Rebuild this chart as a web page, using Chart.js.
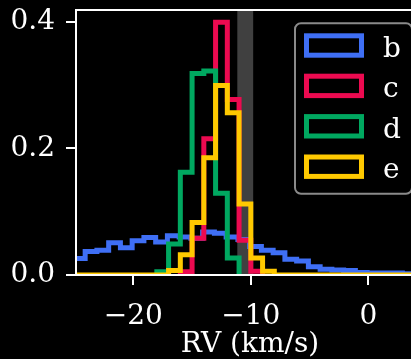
<!DOCTYPE html>
<html>
<head>
<meta charset="utf-8">
<title>RV distributions</title>
<script src="https://cdn.jsdelivr.net/npm/chart.js@4.4.1/dist/chart.umd.min.js"></script>
<style>
  html, body { margin: 0; padding: 0; background: #000; overflow: hidden; }
  #wrap { width: 440px; height: 359px; }
</style>
</head>
<body>
<div id="wrap"><canvas id="rv-hist" width="440" height="359"></canvas></div>
<script>
// Normalised RV histograms, 1 km/s bins
const seriesNames = ["b", "c", "d", "e"];
const seriesColors = ["#3f6ff5", "#ec0a50", "#00a860", "#ffc900"];
const binWidth = 1;
const binStarts = [-25.1, -16, -18, -25];

const bValues = [0.026, 0.037, 0.039, 0.051, 0.043, 0.054, 0.059, 0.052, 0.062, 0.060,
                 0.058, 0.068, 0.066, 0.060, 0.056, 0.045, 0.039, 0.035, 0.025, 0.022,
                 0.013, 0.009, 0.008, 0.007, 0.004, 0.003, 0.003, 0.003, 0.002, 0.002];
const cValues = [0.005, 0.058, 0.215, 0.399, 0.277, 0.055, 0.006];
const dValues = [0.005, 0.049, 0.162, 0.318, 0.322, 0.129, 0.027];
const eValues = [0, 0, 0, 0, 0, 0, 0, 0,
                 0.007, 0.032, 0.083, 0.185, 0.299, 0.256, 0.112, 0.027, 0.006,
                 0, 0, 0, 0, 0, 0, 0, 0, 0, 0, 0, 0, 0];
const seriesValues = [bValues, cValues, dValues, eValues];

// shaded RV interval
const bandRange = [-11.15, -9.8];

const xRange = [-24.88, 4.74];
const yRange = [0, 0.4183];
const xTicks = [-20, -10, 0];
const yTicks = [0, 0.2, 0.4];

const FONT = "DejaVu Serif";

function stepPoints(start, values) {
  const points = [{ x: start, y: 0 }];
  values.forEach((v, i) => {
    points.push({ x: start + i * binWidth, y: v });
    points.push({ x: start + (i + 1) * binWidth, y: v });
  });
  points.push({ x: start + values.length * binWidth, y: 0 });
  return points;
}

const bandPlugin = {
  id: "rvBand",
  beforeDatasetsDraw(chart) {
    const { ctx, chartArea, scales } = chart;
    const x0 = scales.x.getPixelForValue(bandRange[0]);
    const x1 = scales.x.getPixelForValue(bandRange[1]);
    ctx.save();
    ctx.fillStyle = "#404040";
    ctx.fillRect(x0, chartArea.top, x1 - x0, chartArea.bottom - chartArea.top);
    ctx.restore();
  }
};

// axis frame goes over the histograms, legend over everything
const framePlugin = {
  id: "frameAndLegend",
  afterDatasetsDraw(chart) {
    const { ctx, chartArea } = chart;
    ctx.save();
    ctx.strokeStyle = "#ffffff";
    ctx.lineWidth = 2;
    ctx.beginPath();
    ctx.moveTo(chartArea.right, chartArea.top);
    ctx.lineTo(chartArea.left, chartArea.top);
    ctx.lineTo(chartArea.left, chartArea.bottom);
    ctx.lineTo(chartArea.right, chartArea.bottom);
    ctx.stroke();
    ctx.restore();
  },
  afterDraw(chart) {
    const { ctx, chartArea } = chart;
    const left = chartArea.right - 129;
    const right = chartArea.right - 12;
    const top = chartArea.top + 13.3;
    const bottom = top + 170.4;
    const r = 6;

    ctx.save();
    ctx.beginPath();
    ctx.moveTo(left + r, top);
    ctx.lineTo(right - r, top);
    ctx.arcTo(right, top, right, top + r, r);
    ctx.lineTo(right, bottom - r);
    ctx.arcTo(right, bottom, right - r, bottom, r);
    ctx.lineTo(left + r, bottom);
    ctx.arcTo(left, bottom, left, bottom - r, r);
    ctx.lineTo(left, top + r);
    ctx.arcTo(left, top, left + r, top, r);
    ctx.closePath();
    ctx.fillStyle = "#000000";
    ctx.fill();
    ctx.strokeStyle = "#8a8a8a";
    ctx.lineWidth = 2;
    ctx.stroke();

    ctx.font = `28px "${FONT}"`;
    ctx.textBaseline = "alphabetic";
    ctx.textAlign = "left";
    seriesNames.forEach((name, i) => {
      const rowY = top + 22.2 + i * 40.4;
      ctx.strokeStyle = seriesColors[i];
      ctx.lineWidth = 5;
      ctx.lineJoin = "miter";
      ctx.strokeRect(left + 11.5, rowY - 9.7, 55, 19.4);
      ctx.fillStyle = "#ffffff";
      ctx.fillText(name, left + 88, rowY + 11.5);
    });
    ctx.restore();
  }
};

const datasets = seriesNames.map((name, i) => ({
  label: name,
  data: stepPoints(binStarts[i], seriesValues[i]),
  borderColor: seriesColors[i],
  backgroundColor: seriesColors[i],
  borderWidth: 5,
  borderJoinStyle: "miter",
  borderCapStyle: "butt",
  pointRadius: 0,
  pointHoverRadius: 0,
  fill: false,
  tension: 0,
  clip: 0,
  // later series are drawn on top
  order: seriesNames.length - i
}));

const tickFont = { family: FONT, size: 28 };

new Chart(document.getElementById("rv-hist"), {
  type: "line",
  data: { datasets },
  options: {
    responsive: false,
    animation: false,
    devicePixelRatio: 1,
    layout: { padding: { left: 0, top: 10, right: 16, bottom: 0 } },
    plugins: {
      legend: { display: false },
      tooltip: { enabled: false }
    },
    scales: {
      x: {
        type: "linear",
        min: xRange[0],
        max: xRange[1],
        afterBuildTicks(scale) {
          scale.ticks = xTicks.map((value) => ({ value }));
        },
        afterFit(scale) {
          scale.height = 84;
          scale.paddingLeft = 0;
          scale.paddingRight = 0;
        },
        grid: {
          drawOnChartArea: false,
          drawTicks: true,
          tickLength: 10,
          color: "#ffffff",
          lineWidth: 2
        },
        border: { display: false },
        ticks: {
          color: "#ffffff",
          font: tickFont,
          padding: 15,
          autoSkip: false,
          maxRotation: 0,
          callback(value) {
            return String(value).replace("-", "\u2212");
          }
        },
        title: {
          display: true,
          text: "RV (km/s)",
          color: "#ffffff",
          font: { family: FONT, size: 28, lineHeight: 1.05 },
          padding: { top: 0, bottom: 0 }
        }
      },
      y: {
        type: "linear",
        min: yRange[0],
        max: yRange[1],
        afterBuildTicks(scale) {
          scale.ticks = yTicks.map((value) => ({ value }));
        },
        afterFit(scale) {
          scale.width = 76;
          scale.paddingTop = 0;
          scale.paddingBottom = 0;
        },
        grid: {
          drawOnChartArea: false,
          drawTicks: true,
          tickLength: 10,
          color: "#ffffff",
          lineWidth: 2
        },
        border: { display: false },
        ticks: {
          color: "#ffffff",
          font: tickFont,
          padding: 11,
          autoSkip: false,
          callback(value) {
            return value.toFixed(1);
          }
        }
      }
    }
  },
  plugins: [bandPlugin, framePlugin]
});
</script>
</body>
</html>
